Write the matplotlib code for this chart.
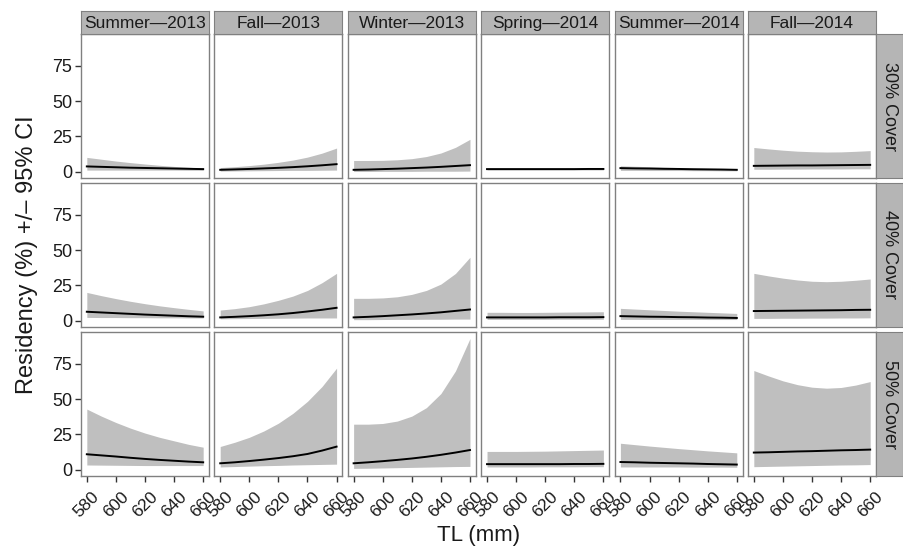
import matplotlib.pyplot as plt
import numpy as np

plt.rcParams['font.family'] = ['Liberation Sans', 'DejaVu Sans']

# TL (mm) at which the curves were read
tl = [580, 590, 600, 610, 620, 630, 640, 650, 660]

seasons = ['Summer\u20142013', 'Fall\u20142013', 'Winter\u20142013',
           'Spring\u20142014', 'Summer\u20142014', 'Fall\u20142014']
covers = ['30% Cover', '40% Cover', '50% Cover']

# 30% cover: mean, lower, upper per season
mean_30 = [
    [3.8, 3.5, 3.2, 2.9, 2.7, 2.5, 2.3, 2.1, 1.9],
    [1.4, 1.7, 2.0, 2.4, 2.8, 3.3, 3.9, 4.6, 5.4],
    [1.4, 1.6, 1.9, 2.2, 2.6, 3.0, 3.5, 4.1, 4.7],
    [1.9, 1.9, 1.9, 1.9, 1.9, 1.9, 1.9, 2.0, 2.0],
    [2.6, 2.4, 2.3, 2.1, 2.0, 1.8, 1.7, 1.6, 1.4],
    [4.2, 4.3, 4.4, 4.5, 4.5, 4.6, 4.7, 4.8, 4.9],
]
low_30 = [
    [1.2, 1.2, 1.2, 1.2, 1.2, 1.2, 1.2, 1.1, 1.1],
    [0.5, 0.6, 0.7, 0.8, 0.9, 1.0, 1.0, 1.1, 1.2],
    [0.2, 0.2, 0.3, 0.3, 0.3, 0.4, 0.4, 0.4, 0.5],
    [1.3, 1.3, 1.3, 1.3, 1.3, 1.3, 1.3, 1.3, 1.3],
    [1.0, 1.0, 0.9, 0.9, 0.9, 0.8, 0.8, 0.7, 0.7],
    [1.8, 1.8, 1.9, 1.9, 2.0, 2.0, 2.0, 2.1, 2.1],
]
up_30 = [
    [10.2, 8.9, 7.6, 6.5, 5.5, 4.6, 3.8, 3.2, 2.6],
    [3.0, 3.6, 4.4, 5.4, 6.7, 8.3, 10.4, 13.2, 16.8],
    [8.0, 8.0, 8.1, 8.5, 9.3, 10.8, 13.3, 17.3, 23.0],
    [2.6, 2.6, 2.6, 2.6, 2.6, 2.6, 2.7, 2.7, 2.8],
    [4.2, 3.9, 3.6, 3.3, 3.0, 2.8, 2.5, 2.3, 2.1],
    [17.2, 16.2, 15.3, 14.6, 14.2, 14.0, 14.1, 14.5, 15.0],
]

# 40% cover
mean_40 = [
    [6.4, 5.9, 5.4, 4.9, 4.4, 4.0, 3.6, 3.2, 2.9],
    [2.4, 2.8, 3.3, 3.9, 4.6, 5.5, 6.6, 7.8, 9.2],
    [2.4, 2.8, 3.3, 3.9, 4.5, 5.2, 6.0, 7.0, 8.0],
    [2.4, 2.4, 2.4, 2.4, 2.4, 2.5, 2.5, 2.5, 2.6],
    [3.3, 3.1, 2.9, 2.8, 2.6, 2.5, 2.3, 2.2, 2.0],
    [6.9, 7.0, 7.1, 7.2, 7.3, 7.4, 7.5, 7.7, 7.8],
]
low_40 = [
    [2.4, 2.3, 2.3, 2.2, 2.2, 2.1, 2.1, 2.0, 2.0],
    [1.4, 1.5, 1.6, 1.7, 1.8, 1.9, 2.0, 2.0, 2.0],
    [0.8, 0.8, 0.9, 1.0, 1.0, 1.1, 1.1, 1.2, 1.2],
    [1.0, 1.0, 1.0, 1.0, 1.0, 1.1, 1.1, 1.1, 1.1],
    [1.0, 1.0, 1.0, 1.0, 1.0, 1.0, 0.9, 0.9, 0.9],
    [1.7, 1.7, 1.8, 1.8, 1.9, 1.9, 2.0, 2.0, 2.1],
]
up_40 = [
    [20.1, 17.8, 15.7, 13.8, 12.1, 10.6, 9.3, 8.1, 7.0],
    [7.6, 8.6, 10.0, 12.0, 14.5, 17.5, 21.5, 27.0, 33.6],
    [15.9, 15.9, 16.2, 17.0, 18.7, 21.5, 26.0, 33.5, 45.0],
    [6.0, 6.0, 5.9, 5.9, 6.0, 6.1, 6.2, 6.3, 6.4],
    [8.8, 8.3, 7.8, 7.3, 6.8, 6.4, 6.0, 5.6, 5.2],
    [33.6, 31.8, 30.2, 28.9, 28.0, 27.7, 28.0, 28.7, 29.6],
]

# 50% cover
mean_50 = [
    [11.0, 10.2, 9.4, 8.5, 7.7, 7.0, 6.4, 5.8, 5.3],
    [4.6, 5.3, 6.2, 7.2, 8.3, 9.6, 11.2, 13.6, 16.4],
    [4.6, 5.3, 6.1, 7.0, 8.0, 9.2, 10.6, 12.2, 14.0],
    [4.0, 4.0, 4.0, 4.0, 4.0, 4.0, 4.1, 4.1, 4.2],
    [5.5, 5.3, 5.0, 4.8, 4.6, 4.4, 4.1, 3.9, 3.7],
    [12.2, 12.4, 12.7, 13.0, 13.2, 13.5, 13.8, 14.0, 14.3],
]
low_50 = [
    [3.4, 3.3, 3.2, 3.1, 3.0, 3.0, 3.0, 3.0, 3.0],
    [2.0, 2.3, 2.6, 2.9, 3.1, 3.4, 3.6, 3.8, 4.0],
    [1.0, 1.1, 1.3, 1.5, 1.7, 1.9, 2.1, 2.3, 2.4],
    [2.0, 2.0, 2.0, 2.0, 2.1, 2.1, 2.1, 2.2, 2.2],
    [2.0, 2.0, 2.0, 2.0, 2.0, 1.9, 1.9, 1.9, 1.8],
    [2.2, 2.4, 2.6, 2.8, 3.0, 3.2, 3.4, 3.5, 3.7],
]
up_50 = [
    [43.0, 38.0, 33.5, 29.5, 26.0, 23.0, 20.5, 18.0, 16.0],
    [16.5, 19.5, 23.0, 27.5, 33.0, 40.0, 48.5, 59.0, 72.0],
    [32.3, 32.3, 32.8, 34.5, 38.0, 44.0, 54.0, 70.0, 93.0],
    [13.0, 13.0, 13.0, 13.1, 13.2, 13.4, 13.6, 13.8, 14.0],
    [18.8, 17.8, 16.8, 15.9, 15.0, 14.2, 13.4, 12.7, 12.0],
    [70.3, 66.5, 63.0, 60.3, 58.5, 57.8, 58.3, 60.0, 62.5],
]

means = [mean_30, mean_40, mean_50]
lows = [low_30, low_40, low_50]
ups = [up_30, up_40, up_50]

W, H = 904, 547
fig = plt.figure(figsize=(W / 100, H / 100), dpi=100)

# panel layout in pixels
left0, pw, xstep = 81, 128, 133.4
top0, ph, ystep = 34, 144, 149
strip_h, strip_w = 23, 27
border = '#808080'
strip_fill = '#b5b5b5'
band = '#bfbfbf'
txt = '#1a1a1a'


def px(x, y, w, h):
    return [x / W, 1 - (y + h) / H, w / W, h / H]


for r in range(3):
    for c in range(6):
        x = left0 + c * xstep
        y = top0 + r * ystep
        ax = fig.add_axes(px(x, y, pw, ph))
        ax.fill_between(tl, lows[r][c], ups[r][c], color=band, lw=0)
        ax.plot(tl, means[r][c], color='black', lw=1.4)
        ax.set_xlim(576, 664)
        ax.set_ylim(-4.4, 97.6)
        ax.set_xticks([580, 600, 620, 640, 660])
        ax.set_yticks([0, 25, 50, 75])
        for s in ax.spines.values():
            s.set_color(border)
            s.set_linewidth(1.0)
        ax.tick_params(length=4.5, width=1, color='#333333', labelsize=13,
                       labelcolor=txt, pad=2)
        if c == 0:
            ax.set_yticklabels(['0', '25', '50', '75'])
        else:
            ax.tick_params(axis='y', left=False, labelleft=False)
        if r == 2:
            ax.set_xticklabels(['580', '600', '620', '640', '660'],
                               rotation=45, ha='center', va='top')
            ax.tick_params(axis='x', labelsize=12.5, pad=5)
        else:
            ax.tick_params(axis='x', bottom=False, labelbottom=False)

        if r == 0:
            sa = fig.add_axes(px(x, top0 - strip_h, pw, strip_h))
            sa.set_facecolor(strip_fill)
            sa.set_xticks([])
            sa.set_yticks([])
            for s in sa.spines.values():
                s.set_color(border)
            sa.text(0.5, 0.47, seasons[c], ha='center', va='center',
                    fontsize=12.5, color=txt, transform=sa.transAxes)
        if c == 5:
            sa = fig.add_axes(px(x + pw, y, strip_w, ph))
            sa.set_facecolor(strip_fill)
            sa.set_xticks([])
            sa.set_yticks([])
            for s in sa.spines.values():
                s.set_color(border)
            sa.text(0.5, 0.5, covers[r], ha='center', va='center',
                    rotation=-90, fontsize=13, color=txt,
                    transform=sa.transAxes)

fig.text(27 / W, 1 - 255 / H, 'Residency (%) +/\u2013 95% CI', rotation=90,
         ha='center', va='center', fontsize=17, color=txt)
fig.text(479 / W, 1 - 536 / H, 'TL (mm)', ha='center', va='center',
         fontsize=16, color=txt)

fig.savefig('out.png', dpi=100)
